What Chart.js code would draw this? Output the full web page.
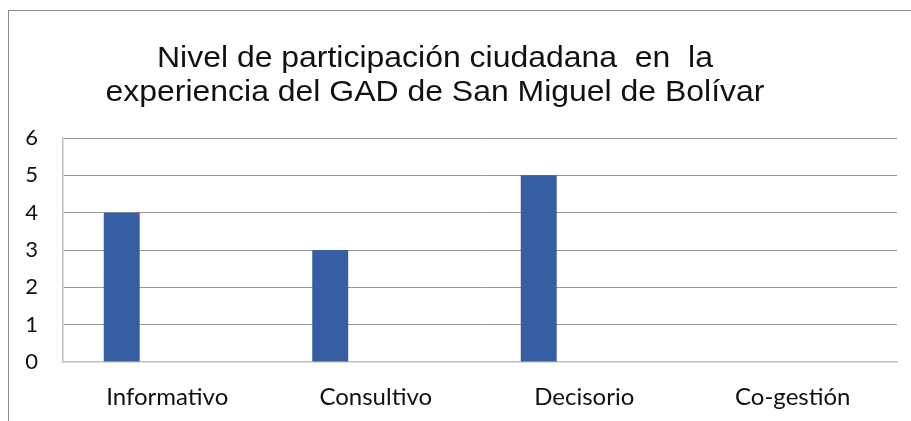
<!DOCTYPE html>
<html>
<head>
<meta charset="utf-8">
<script src="https://cdn.jsdelivr.net/npm/chart.js@4"></script>
<style>
  html, body { margin: 0; padding: 0; background: #fff; }
  #wrap { position: relative; width: 911px; height: 421px; }
  #marco { position: absolute; left: 8px; top: 10px; right: 0; bottom: 0;
           border-left: 1px solid #8a8a8a; border-top: 1px solid #8a8a8a; pointer-events: none; }
</style>
</head>
<body>
<div id="wrap">
  <canvas id="myChart" width="911" height="421"></canvas>
  <div id="marco"></div>
</div>
<script>
let categorias = ['Informativo', 'Consultivo', 'Decisorio', 'Co-gestión'];
let serie1 = [4, 3, 5, 0];
let serie2 = [null, null, null, null];
let serie3 = [null, null, null, null];
let ticksY = [0, 1, 2, 3, 4, 5, 6];
let tituloLineas = ['Nivel de participación ciudadana  en  la', 'experiencia del GAD de San Miguel de Bolívar'];

// titulo dibujado a mano para centrarlo como en el original
const tituloPlugin = {
    id: 'tituloPlugin',
    afterDraw(chart) {
        let ctx = chart.ctx;
        let cx = chart.chartArea.left + chart.chartArea.width * 0.446;
        ctx.save();
        ctx.font = '30px "Liberation Sans", Arial, sans-serif';
        ctx.fillStyle = '#111';
        ctx.textAlign = 'center';
        ctx.textBaseline = 'alphabetic';
        ctx.translate(cx, 0);
        ctx.scale(1.065, 1);
        ctx.fillText(tituloLineas[0], 0, 67);
        ctx.fillText(tituloLineas[1], 0, 101);
        ctx.restore();
    }
};

let ctx = document.getElementById('myChart').getContext('2d');
window.myChart = new Chart(ctx, {
    type: 'bar',
    data: {
        labels: categorias,
        datasets: [
            { label: 'Serie 1', data: serie1, backgroundColor: '#365EA2' },
            { label: 'Serie 2', data: serie2, backgroundColor: '#C0504D' },
            { label: 'Serie 3', data: serie3, backgroundColor: '#9BBB59' },
        ],
    },
    options: {
        responsive: false,
        animation: false,
        categoryPercentage: 0.655,
        barPercentage: 0.79,
        layout: { padding: { top: 138, right: 14, left: 0, bottom: 0 } },
        plugins: {
            legend: { display: false },
            title: { display: false },
            tooltip: { enabled: false },
        },
        scales: {
            x: {
                grid: { display: false, drawTicks: false },
                border: { color: '#bfbfbf', width: 1.5 },
                ticks: { color: '#111', font: { family: 'Lato', size: 24 }, padding: 21 },
                afterFit: function (scale) { scale.height = 59; },
            },
            y: {
                min: 0,
                max: 6,
                afterBuildTicks: function (scale) {
                    scale.ticks = ticksY.map(function (v) { return { value: v }; });
                },
                grid: {
                    drawTicks: false,
                    color: function (c) { return c.tick && c.tick.value === 0 ? 'rgba(0,0,0,0)' : '#969696'; },
                },
                border: { color: '#bfbfbf', width: 1.5 },
                ticks: { color: '#111', font: { family: 'Lato', size: 22 }, padding: 25 },
                afterFit: function (scale) { scale.width = 63; },
            },
        },
    },
    plugins: [tituloPlugin],
});
</script>
</body>
</html>
